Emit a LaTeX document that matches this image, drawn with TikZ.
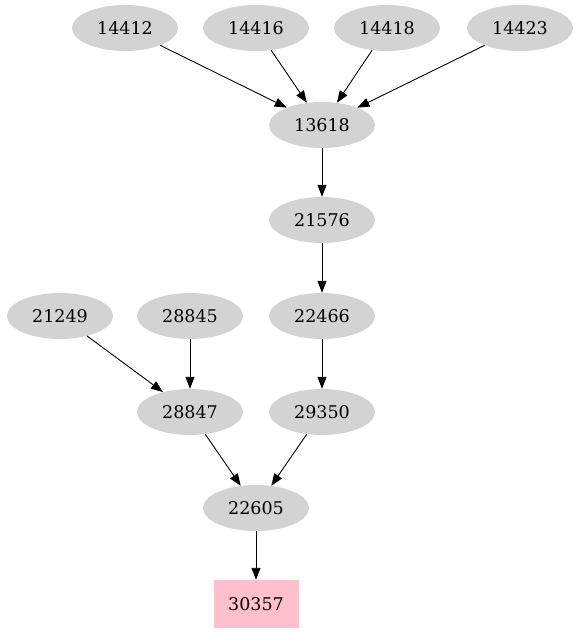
\documentclass[tikz,border=0pt]{standalone}
\usepackage{fontspec}
\setmainfont{DejaVu Serif}
\usetikzlibrary{shapes.geometric,arrows.meta}
\definecolor{nodegray}{RGB}{211,211,211}
\definecolor{leafpink}{RGB}{255,192,203}
\begin{document}
\begin{tikzpicture}[x=1pt,y=-1pt,
  idnode/.style={ellipse,fill=nodegray,minimum width=106pt,minimum height=46pt,inner sep=0pt,font=\fontsize{17.5}{20}\selectfont},
  sinknode/.style={rectangle,fill=leafpink,minimum width=85pt,minimum height=48pt,inner sep=0pt,font=\fontsize{17.5}{20}\selectfont},
  link/.style={-{Triangle[length=12pt,width=9pt]},line width=0.9pt}]
\useasboundingbox (0,0) rectangle (581,635);
\node[idnode] (n14412) at (125,28) {14412};
\node[idnode] (n14416) at (256,28) {14416};
\node[idnode] (n14418) at (387,28) {14418};
\node[idnode] (n14423) at (520,28) {14423};
\node[idnode] (n13618) at (322,125) {13618};
\node[idnode] (n21576) at (322,220) {21576};
\node[idnode] (n21249) at (60,316) {21249};
\node[idnode] (n28845) at (190,316) {28845};
\node[idnode] (n22466) at (322,316) {22466};
\node[idnode] (n28847) at (190,412) {28847};
\node[idnode] (n29350) at (322,412) {29350};
\node[idnode] (n22605) at (256,508) {22605};
\node[sinknode] (n30357) at (256,604) {30357};

\foreach \src in {n14412,n14416,n14418,n14423}
    \draw[link] (\src) -- (n13618);
\draw[link] (n13618) -- (n21576);
\draw[link] (n21576) -- (n22466);
\draw[link] (n22466) -- (n29350);
\draw[link] (n21249) -- (n28847);
\draw[link] (n28845) -- (n28847);
\draw[link] (n28847) -- (n22605);
\draw[link] (n29350) -- (n22605);
\draw[link] (n22605) -- (n30357);
\end{tikzpicture}
\end{document}
